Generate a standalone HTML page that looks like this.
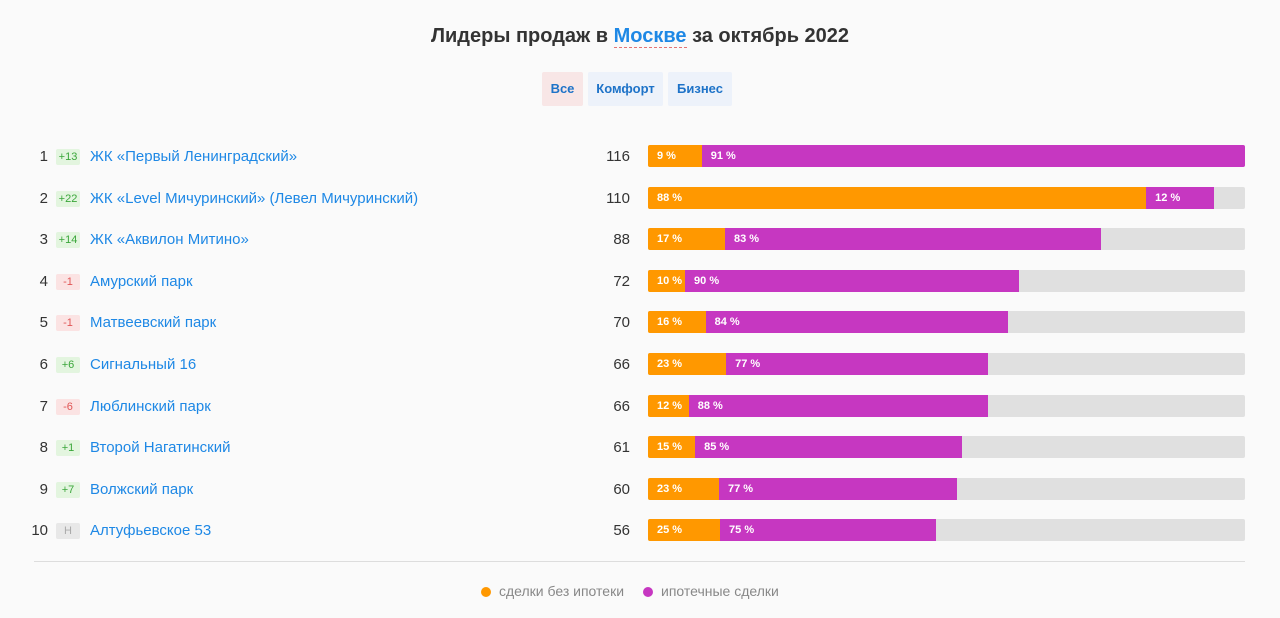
<!DOCTYPE html>
<html><head><meta charset="utf-8"><style>
body{margin:0;width:1280px;height:618px;background:#fafafa;font-family:"Liberation Sans","Noto Sans CJK SC",sans-serif;position:relative;overflow:hidden}
.t{position:absolute;left:0;width:1280px;top:25px;text-align:center;font-size:20px;font-weight:bold;color:#333}
.t span{color:#1e88e5;border-bottom:1px dashed #e57373}
.btn{position:absolute;top:72px;height:34px;line-height:34px;text-align:center;font-size:13px;font-weight:bold;color:#1e73c8;background:#edf2fa;border-radius:2px}
.row{position:absolute;left:0;width:1280px;height:24px}
.rk{position:absolute;right:1232px;top:4px;font-size:15px;color:#333}
.bd{position:absolute;left:56px;top:5px;width:24px;text-align:center;height:16px;line-height:16px;font-size:11px;border-radius:2px}
.nm{position:absolute;left:90px;top:4px;font-size:15px;color:#1e88e5}
.val{position:absolute;right:650px;top:4px;font-size:15px;color:#333}
.tr{position:absolute;left:648px;top:1px;width:597px;height:22px;background:#e0e0e0;border-radius:2px;overflow:hidden}
.seg{position:absolute;top:0;height:22px;font-size:11px;font-weight:bold;line-height:22px;color:#fff;box-sizing:border-box;padding-left:9px;white-space:nowrap;overflow:hidden}
.leg{position:absolute;top:583px;font-size:14px;color:#888}
.dot{display:inline-block;width:10px;height:10px;border-radius:50%;margin-right:8px;vertical-align:-1px}
</style></head><body>
<div class="t">Лидеры продаж в <span>Москве</span> за октябрь 2022</div>
<div class="btn" style="left:542px;width:41px;background:#f8e6e6">Все</div>
<div class="btn" style="left:588px;width:75px">Комфорт</div>
<div class="btn" style="left:668px;width:64px">Бизнес</div>
<div id="rows"></div>
<div style="position:absolute;left:34px;top:561px;width:1211px;height:1px;background:#ddd"></div>
<div class="leg" style="left:481px"><span class="dot" style="background:#ff9800"></span>сделки без ипотеки</div>
<div class="leg" style="left:643px"><span class="dot" style="background:#c637c1"></span>ипотечные сделки</div>
<script>
const names=["ЖК «Первый Ленинградский»","ЖК «Level Мичуринский» (Левел Мичуринский)","ЖК «Аквилон Митино»","Амурский парк","Матвеевский парк","Сигнальный 16","Люблинский парк","Второй Нагатинский","Волжский парк","Алтуфьевское 53"];
const changes=["+13","+22","+14","-1","-1","+6","-6","+1","+7","Н"];
const totals=[116,110,88,72,70,66,66,61,60,56];
const noMortgage=[9,88,17,10,16,23,12,15,23,25];
const mortgage=[91,12,83,90,84,77,88,85,77,75];
const maxV=116, trackW=597;
const c=document.getElementById('rows');
names.forEach((n,i)=>{
 const r=document.createElement('div');r.className='row';r.style.top=(144+i*41.6)+'px';
 
 
 const ch=changes[i];
 const bc=ch[0]=='+'?['#e3f5df','#3aa63a']:ch[0]=='-'?['#fbe3e3','#e05555']:['#e8e8e8','#aaa'];
 const w=totals[i]/maxV*trackW, w1=w*noMortgage[i]/100;
 r.innerHTML=`<div class="rk">${i+1}</div><div class="bd" style="background:${bc[0]};color:${bc[1]}">${ch}</div><div class="nm">${n}</div><div class="val">${totals[i]}</div><div class="tr"><div class="seg" style="left:0;width:${w1}px;background:#ff9800">${noMortgage[i]} %</div><div class="seg" style="left:${w1}px;width:${w-w1}px;background:#c637c1">${mortgage[i]} %</div></div>`;
 const q=r.querySelectorAll('div');
 const nm=['rank','change-badge','complex-name','sales-total','bar-track','bar-no-mortgage','bar-mortgage'];
 q.forEach((e,k)=>{});
 c.appendChild(r);
});
</script>
</body></html>
